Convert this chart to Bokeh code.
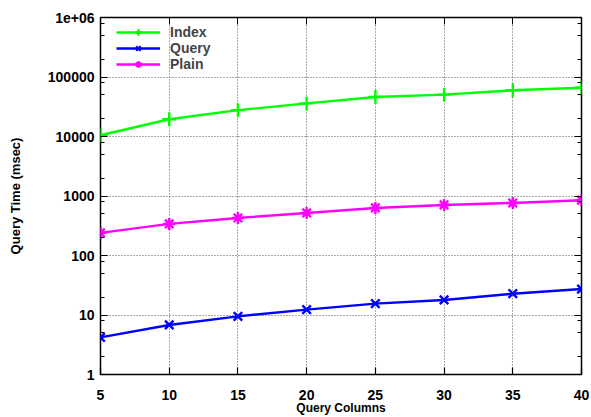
from bokeh.plotting import figure
from bokeh.models import FixedTicker, LinearAxis, LogAxis, Legend, LegendItem
from bokeh.embed import file_html
from bokeh.resources import INLINE

columns = [5, 10, 15, 20, 25, 30, 35, 40]
index_ms = [10500, 19500, 27700, 36000, 46000, 50500, 59800, 66000]
query_ms = [4.2, 6.8, 9.5, 12.3, 15.5, 17.9, 22.8, 27.3]
plain_ms = [240, 340, 427, 519, 630, 707, 763, 850]

x_ticks = [5, 10, 15, 20, 25, 30, 35, 40]
y_ticks = [1, 10, 100, 1000, 10000, 100000, 1000000]
y_labels = {1: "1", 10: "10", 100: "100", 1000: "1000", 10000: "10000",
            100000: "100000", 1000000: "1e+06"}

FONT = "Liberation Sans"

p = figure(width=591, height=417, y_axis_type="log", x_range=(5, 40),
           y_range=(1, 1e6), output_backend="svg", toolbar_location=None,
           min_border_left=100, min_border_right=10, min_border_top=17,
           min_border_bottom=42)
p.background_fill_color = "white"
p.border_fill_color = "white"
p.outline_line_color = "black"
p.outline_line_width = 1.5

minor = []
for d in [1, 10, 100, 1000, 10000, 100000]:
    for m in [2, 5, 8]:
        minor.append(d * m)

p.xaxis.ticker = FixedTicker(ticks=x_ticks)
p.yaxis.ticker = FixedTicker(ticks=y_ticks, minor_ticks=minor)
p.yaxis.major_label_overrides = y_labels

for ax in [p.xaxis[0], p.yaxis[0]]:
    ax.major_label_text_font = FONT
    ax.major_label_text_font_style = "bold"
    ax.major_label_text_font_size = "14px"
    ax.major_label_text_color = "black"
    ax.axis_label_text_font = FONT
    ax.axis_label_text_font_style = "bold"
    ax.axis_label_text_font_size = "13px"
    ax.axis_label_text_color = "black"
    ax.axis_line_color = None
    ax.major_tick_in = 7
    ax.major_tick_out = 0
    ax.minor_tick_in = 4
    ax.minor_tick_out = 0
    ax.major_tick_line_color = "black"
    ax.minor_tick_line_color = "black"
    ax.major_tick_line_width = 1.2

p.xaxis.axis_label = "Query Columns"
p.yaxis.axis_label = "Query Time (msec)"
p.xaxis.major_label_standoff = 15
p.xaxis.axis_label_standoff = -2
p.xaxis.axis_label_text_font_size = "12px"
p.yaxis.major_label_standoff = 6
p.yaxis.axis_label_standoff = 22
p.xaxis.minor_tick_in = 0

# mirrored tick marks on the right and top edges (no labels)
ra = LogAxis(ticker=FixedTicker(ticks=y_ticks, minor_ticks=minor),
             major_label_overrides={t: " " for t in y_ticks},
             axis_line_color=None,
             major_tick_in=7, major_tick_out=0, minor_tick_in=4, minor_tick_out=0,
             major_label_standoff=0)
p.add_layout(ra, "right")
ta = LinearAxis(ticker=FixedTicker(ticks=x_ticks),
                major_label_overrides={t: " " for t in x_ticks},
                axis_line_color=None,
                major_tick_in=7, major_tick_out=0, minor_tick_in=0, minor_tick_out=0,
                major_label_standoff=0)
p.add_layout(ta, "above")

p.xgrid.grid_line_color = "#555555"
p.xgrid.grid_line_dash = "1 2"
p.xgrid.grid_line_width = 1
p.ygrid.grid_line_color = "#555555"
p.ygrid.grid_line_dash = "1 2"
p.ygrid.grid_line_width = 1

l1 = p.line(columns, index_ms, color="#00ff00", line_width=2.4)
m1 = p.scatter(columns, index_ms, marker="cross", size=14, line_color="#00ff00", line_width=2.4)
l2 = p.line(columns, query_ms, color="#0000ff", line_width=2.4)
m2 = p.scatter(columns, query_ms, marker="x", size=12, line_color="#0000ff", line_width=2.4)
l3 = p.line(columns, plain_ms, color="#ff00ff", line_width=2.4)
m3 = p.scatter(columns, plain_ms, marker="asterisk", size=12, line_color="#ff00ff", line_width=2.4)

legend = Legend(items=[LegendItem(label="Index", renderers=[l1, m1]),
                       LegendItem(label="Query", renderers=[l2, m2]),
                       LegendItem(label="Plain", renderers=[l3, m3])],
                location=(16, 302))
legend.border_line_color = None
legend.background_fill_alpha = 0
legend.glyph_width = 44
legend.glyph_height = 16
legend.spacing = 0
legend.padding = 4
legend.margin = 0
legend.label_text_font = FONT
legend.label_text_font_style = "bold"
legend.label_text_font_size = "14px"
legend.label_height = 16
legend.label_standoff = 10
p.add_layout(legend)

open("out.html", "w").write(file_html(p, INLINE))
